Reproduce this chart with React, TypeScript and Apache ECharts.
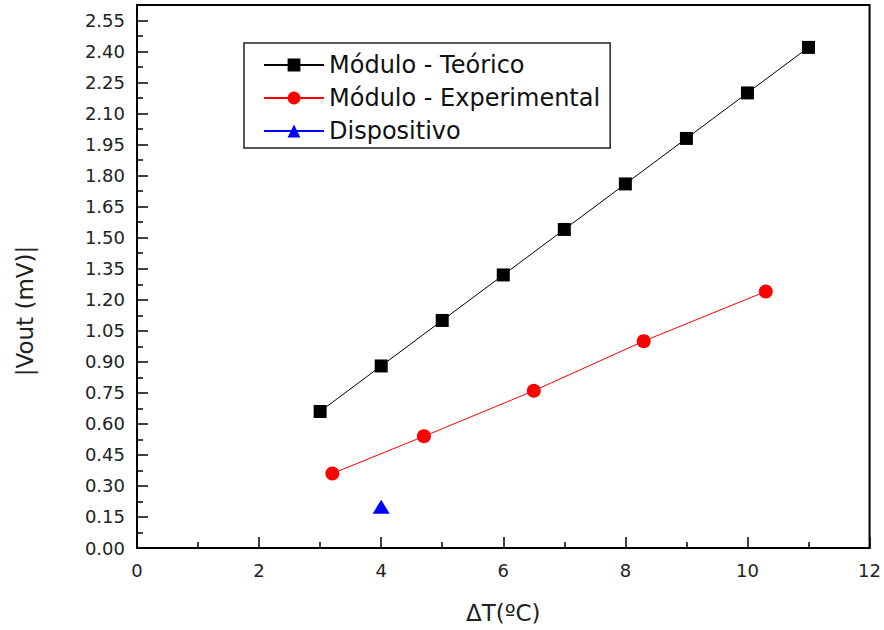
import React, { useEffect, useRef } from "react";
import * as echarts from "echarts";

const teoricoX = [3, 4, 5, 6, 7, 8, 9, 10, 11];
const teoricoY = [0.66, 0.88, 1.1, 1.32, 1.54, 1.76, 1.98, 2.2, 2.42];
const expX = [3.2, 4.7, 6.5, 8.3, 10.3];
const expY = [0.36, 0.54, 0.76, 1.0, 1.24];
const dispX = [4];
const dispY = [0.2];

const seriesNames = ["Módulo - Teórico", "Módulo - Experimental", "Dispositivo"];
const xTitle = "ΔT(ºC)";
const yTitle = "|Vout (mV)|";

const zip = (xs: number[], ys: number[]) => xs.map((x, i) => [x, ys[i]]);

export default function App() {
  const ref = useRef<HTMLDivElement>(null);
  useEffect(() => {
    if (!ref.current) return;
    const chart = echarts.init(ref.current, null, { renderer: "svg" });
    const font = "'DejaVu Sans', sans-serif";
    chart.setOption({
      animation: false,
      backgroundColor: "#fff",
      grid: {
        left: 137,
        right: 11,
        top: 5,
        bottom: 82,
        show: true,
        borderColor: "#000",
        borderWidth: 2,
        backgroundColor: "transparent",
      },
      graphic: [
        {
          type: "text",
          x: 25,
          y: 311,
          rotation: Math.PI / 2,
          style: {
            text: yTitle,
            fontFamily: font,
            fontSize: 23,
            fill: "#222",
            align: "center",
            verticalAlign: "middle",
          },
        },
      ],
      legend: {
        orient: "vertical",
        left: 244,
        top: 43,
        data: seriesNames,
        itemWidth: 60,
        itemHeight: 16,
        itemGap: 7,
        padding: [9, 10, 4, 19],
        borderColor: "#222",
        borderWidth: 1.5,
        textStyle: { fontFamily: font, fontSize: 24, color: "#111", lineHeight: 26 },
      },
      xAxis: {
        type: "value",
        min: 0,
        max: 12,
        interval: 2,
        name: xTitle,
        nameLocation: "middle",
        nameGap: 53,
        nameTextStyle: { fontFamily: font, fontSize: 23, color: "#222" },
        axisLine: { show: true, lineStyle: { color: "#000", width: 2 } },
        axisTick: { show: true, inside: true, length: 11, lineStyle: { color: "#000", width: 1.5 } },
        minorTick: { show: true, splitNumber: 2, length: 6, lineStyle: { color: "#000", width: 1.5 } },
        axisLabel: { fontFamily: font, fontSize: 18, color: "#222", margin: 13 },
        splitLine: { show: false },
      },
      yAxis: {
        type: "value",
        min: 0,
        max: 2.625,
        interval: 0.15,
        axisLine: { show: true, lineStyle: { color: "#000", width: 2 } },
        axisTick: { show: true, inside: true, length: 11, lineStyle: { color: "#000", width: 1.5 } },
        minorTick: { show: true, splitNumber: 2, length: 6, lineStyle: { color: "#000", width: 1.5 } },
        axisLabel: {
          fontFamily: font,
          fontSize: 18,
          color: "#222",
          margin: 12,
          showMaxLabel: false,
          formatter: (v: number) => {
            const k = v / 0.15;
            return Math.abs(k - Math.round(k)) < 1e-6 ? v.toFixed(2) : "";
          },
        },
        splitLine: { show: false },
      },
      series: [
        {
          name: seriesNames[0],
          type: "line",
          data: zip(teoricoX, teoricoY),
          symbol: "rect",
          symbolSize: 13,
          itemStyle: { color: "#000" },
          lineStyle: { color: "#000", width: 1 },
        },
        {
          name: seriesNames[1],
          type: "line",
          data: zip(expX, expY),
          symbol: "circle",
          symbolSize: 14,
          itemStyle: { color: "#ff0000" },
          lineStyle: { color: "#ff0000", width: 1 },
        },
        {
          name: seriesNames[2],
          type: "line",
          data: zip(dispX, dispY),
          symbol: "triangle",
          symbolSize: [17, 14],
          itemStyle: { color: "#0000ff" },
          lineStyle: { color: "#0000ff", width: 1 },
        },
      ],
    });
    return () => chart.dispose();
  }, []);
  return <div ref={ref} style={{ width: 884, height: 630, position: "absolute", left: 0, top: 0 }} />;
}
